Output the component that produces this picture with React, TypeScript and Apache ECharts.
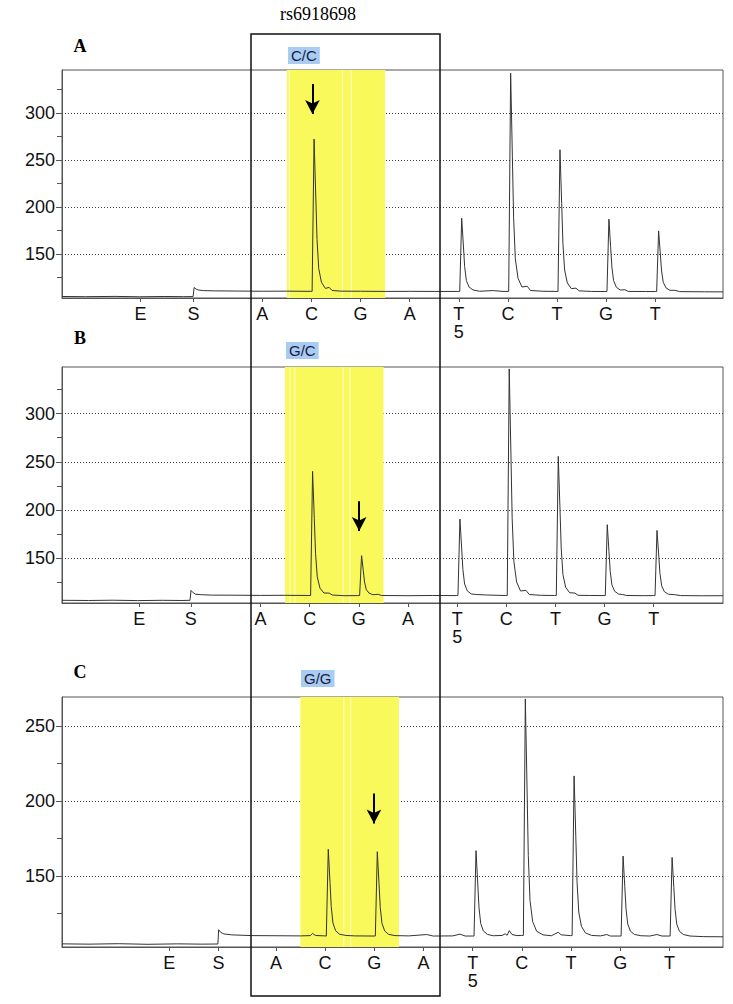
import React, { useEffect, useRef } from "react";
import * as echarts from "echarts";

// ---------- data ----------
const TICK_LABELS = ["E", "S", "A", "C", "G", "A", "T\n5", "C", "T", "G", "T"];
const POS_A = [-1.48, -0.4, 1, 2, 3, 4, 5, 6, 7, 8, 9];
const POS_B = [-1.47, -0.42, 1, 2, 3, 4, 5, 6, 7, 8, 9];
const POS_C = [-1.17, -0.17, 1, 2, 3, 4, 5, 6, 7, 8, 9];

const X_RANGE_A = [-3.08, 10.38];
const X_RANGE_B = [-3.04, 10.41];
const X_RANGE_C = [-3.35, 10.09];
const Y_RANGE_A = [103, 346];
const Y_RANGE_B = [103.2, 348.5];
const Y_RANGE_C = [102.7, 269.3];

const MAJOR_A = [150, 200, 250, 300];
const MAJOR_B = [150, 200, 250, 300];
const MAJOR_C = [150, 200, 250];
const MINOR_A = [125, 175, 225, 275, 325];
const MINOR_B = [125, 175, 225, 275, 325];
const MINOR_C = [125, 175, 225];

const BAND = [1.5, 3.5];
const STRIPES_A = [1.55, 2.63, 2.81];
const STRIPES_B = [1.6, 1.7, 2.68, 2.82];
const STRIPES_C = [2.38, 2.52];

const GENOTYPES = ["C/C", "G/C", "G/G"];
// arrow: [x, y start, y end]
const ARROW_A = [2.02, 331, 299];
const ARROW_B = [3.007, 209, 178];
const ARROW_C = [2.993, 205, 185];

const TRACE_A = [
  [-3.08, 104.6], [-2.6, 104.4], [-2.0, 104.7], [-1.5, 104.3], [-1.0, 104.6], [-0.6, 104.4],
  [-0.41, 104.5], [-0.39, 114.2], [-0.35, 112.5], [-0.3, 111.5], [-0.2, 110.9], [0.0, 110.6],
  [0.5, 110.4], [1.0, 110.2], [1.5, 110.3], [1.98, 110.1],
  [2.013, 110], [2.053, 272.3], [2.088, 210.6], [2.113, 165.2], [2.148, 134.3], [2.203, 119.7],
  [2.283, 113.2], [2.36, 114.3], [2.42, 111], [2.6, 110.3],
  [3.0, 110.2], [3.5, 110.0], [4.0, 110.1], [4.5, 110.0], [4.98, 110.0],
  [5.019, 110], [5.059, 188], [5.094, 158.4], [5.119, 136.5], [5.154, 121.7], [5.209, 114.7],
  [5.289, 111.6], [5.42, 110.2], [5.7, 110.9], [5.9, 110],
  [6.016, 110], [6.056, 342.6], [6.091, 254.2], [6.116, 189.1], [6.151, 144.9], [6.206, 124],
  [6.286, 114.7], [6.394, 115.5], [6.46, 111], [6.7, 110.2], [6.98, 110],
  [7.02, 110], [7.06, 261], [7.095, 203.6], [7.12, 161.3], [7.155, 132.7], [7.21, 119.1],
  [7.29, 113], [7.386, 113.5], [7.45, 110.6], [7.7, 110], [7.98, 109.9],
  [8.017, 110], [8.057, 187], [8.092, 157.7], [8.117, 136.2], [8.152, 121.6], [8.207, 114.6],
  [8.287, 111.5], [8.383, 111.8], [8.45, 110], [8.8, 109.9], [9.0, 109.9],
  [9.029, 109.9], [9.069, 174.5], [9.104, 149.9], [9.129, 131.8], [9.164, 119.6], [9.219, 113.8],
  [9.299, 111.2], [9.4, 111.2], [9.5, 109.8], [10.0, 109.6], [10.38, 109.5],
];

const TRACE_B = [
  [-3.04, 106.0], [-2.5, 105.8], [-2.0, 106.1], [-1.5, 105.7], [-1.0, 106.0], [-0.6, 105.8],
  [-0.435, 106], [-0.415, 116.3], [-0.37, 113.8], [-0.32, 112.3], [-0.2, 111.8], [0, 111.4],
  [0.5, 111.3], [1.0, 111.1], [1.5, 111.2], [1.97, 111],
  [2.019, 111], [2.059, 240], [2.094, 191], [2.119, 154.9], [2.154, 130.4], [2.209, 118.7],
  [2.289, 113.6], [2.396, 113.5], [2.46, 111.5], [2.7, 110.8], [2.98, 110.9],
  [3.016, 111], [3.056, 152.4], [3.091, 136.7], [3.116, 125.1], [3.151, 117.2], [3.206, 113.5],
  [3.286, 111.8], [3.394, 112.2], [3.46, 111], [4.0, 110.8], [4.5, 111.0], [4.99, 110.9],
  [5.017, 111], [5.057, 190.5], [5.092, 160.3], [5.117, 138], [5.152, 122.9], [5.207, 115.8],
  [5.287, 112.6], [5.4, 112], [5.6, 111.5], [5.98, 111],
  [6.02, 111], [6.06, 346.5], [6.095, 257], [6.12, 191.1], [6.155, 146.3], [6.21, 125.1],
  [6.29, 115.7], [6.4, 116.3], [6.47, 112], [6.7, 111.2], [6.98, 111],
  [7.018, 111], [7.058, 255.6], [7.093, 200.7], [7.118, 160.2], [7.153, 132.7], [7.208, 119.7],
  [7.288, 113.9], [7.398, 113.5], [7.46, 111.2], [7.7, 111], [7.99, 110.9],
  [8.015, 111], [8.055, 184.6], [8.09, 156.6], [8.115, 136], [8.15, 122], [8.205, 115.4],
  [8.285, 112.5], [8.37, 112], [8.45, 111], [8.8, 110.8], [9.0, 110.9],
  [9.027, 110.9], [9.067, 178.7], [9.102, 153], [9.127, 134], [9.162, 121.1], [9.217, 115],
  [9.297, 112.3], [9.43, 111.8], [9.55, 110.9], [10.0, 110.7], [10.41, 110.8],
];

const TRACE_C = [
  [-3.35, 104.8], [-2.8, 104.6], [-2.2, 104.9], [-1.6, 104.5], [-1.0, 104.8], [-0.5, 104.6],
  [-0.18, 104.7], [-0.165, 114.2], [-0.12, 112.4], [-0.06, 111.4], [0.1, 110.8], [0.5, 110.3],
  [1.0, 110.2], [1.5, 110.1], [1.7, 110.3], [1.746, 111.8], [1.8, 110.4], [1.99, 110.1],
  [2.024, 110], [2.064, 167.8], [2.099, 145.8], [2.124, 129.7], [2.159, 118.7], [2.214, 113.5],
  [2.294, 111.2], [2.42, 110.4], [2.6, 110.1], [3.0, 110],
  [3.021, 110], [3.061, 166.2], [3.096, 144.8], [3.121, 129.1], [3.156, 118.4], [3.211, 113.4],
  [3.291, 111.1], [3.42, 110.3], [3.7, 110.1], [4.066, 111], [4.2, 110], [4.6, 110.1],
  [4.74, 111.3], [4.85, 110], [4.99, 110],
  [5.028, 110], [5.068, 166.9], [5.103, 145.3], [5.128, 129.3], [5.163, 118.5], [5.218, 113.4],
  [5.298, 111.1], [5.42, 110.2], [5.6, 110.4], [5.66, 111.5], [5.7, 110.5], [5.746, 113.6],
  [5.8, 111], [5.9, 110.3], [5.99, 110.4],
  [6.031, 110.4], [6.071, 268], [6.106, 208], [6.131, 163.7], [6.166, 133.7], [6.221, 119.5],
  [6.301, 113.2], [6.43, 110.8], [6.6, 110.2], [6.74, 112.5], [6.8, 110.8], [6.99, 110.3],
  [7.022, 110.3], [7.062, 216.7], [7.097, 176.2], [7.122, 146.3], [7.157, 126], [7.212, 116.4],
  [7.292, 112.1], [7.42, 110.4], [7.6, 110.1], [7.727, 111], [7.8, 110], [7.99, 110],
  [8.018, 110], [8.058, 163.3], [8.093, 143], [8.118, 128.1], [8.153, 118], [8.208, 113.2],
  [8.288, 111.1], [8.42, 110.2], [8.6, 110], [8.745, 111], [8.85, 110], [8.99, 110],
  [9.015, 110], [9.055, 162.4], [9.09, 142.5], [9.115, 127.8], [9.15, 117.9], [9.205, 113.1],
  [9.285, 111], [9.42, 110], [9.7, 109.6], [10.09, 109.5],
];

// ---------- layout / style ----------
const GRIDS = [
  { left: 62, top: 70, width: 661, height: 228 },
  { left: 62, top: 367, width: 661, height: 236 },
  { left: 62, top: 697, width: 661, height: 250 },
];
const SANS = '"Liberation Sans", Arial, sans-serif';
const SERIF = '"Liberation Serif", "Times New Roman", serif';
const AXIS_COLOR = "#555";
const YELLOW = "#F9F95C";
const PALE = "#FBFBC8";

function bandAreas(stripes: number[]) {
  const areas: any[] = [[{ xAxis: BAND[0], itemStyle: { color: PALE } }, { xAxis: BAND[1] }]];
  const edges = [BAND[0], ...stripes, BAND[1]];
  for (let i = 0; i < edges.length - 1; i++) {
    const a = i === 0 ? edges[i] : edges[i] + 0.011;
    const b = i === edges.length - 2 ? edges[i + 1] : edges[i + 1] - 0.011;
    areas.push([{ xAxis: a, itemStyle: { color: YELLOW } }, { xAxis: b }]);
  }
  return areas;
}

export default function App() {
  const ref = useRef<HTMLDivElement>(null);

  useEffect(() => {
    if (!ref.current) return;
    const chart = echarts.init(ref.current, null, { renderer: "svg" });

    const panels = [
      { pos: POS_A, xr: X_RANGE_A, yr: Y_RANGE_A, major: MAJOR_A, minor: MINOR_A, stripes: STRIPES_A, arrow: ARROW_A, trace: TRACE_A },
      { pos: POS_B, xr: X_RANGE_B, yr: Y_RANGE_B, major: MAJOR_B, minor: MINOR_B, stripes: STRIPES_B, arrow: ARROW_B, trace: TRACE_B },
      { pos: POS_C, xr: X_RANGE_C, yr: Y_RANGE_C, major: MAJOR_C, minor: MINOR_C, stripes: STRIPES_C, arrow: ARROW_C, trace: TRACE_C },
    ];

    const grid = GRIDS.map((g) => ({
      ...g,
      show: true,
      borderColor: AXIS_COLOR,
      borderWidth: 1,
      backgroundColor: "transparent",
    }));

    const xAxis = panels.map((p, i) => ({
      type: "value",
      gridIndex: i,
      min: p.xr[0],
      max: p.xr[1],
      axisLine: { show: true, onZero: false, lineStyle: { color: AXIS_COLOR, width: 1 } },
      axisTick: { show: true, customValues: p.pos, length: 4, lineStyle: { color: AXIS_COLOR } },
      axisLabel: {
        show: true,
        customValues: p.pos,
        margin: 7,
        fontFamily: SANS,
        fontSize: 18,
        lineHeight: 18,
        color: "#111",
        formatter: (v: number) => {
          const k = p.pos.findIndex((q) => Math.abs(q - v) < 1e-6);
          return k >= 0 ? TICK_LABELS[k] : "";
        },
      },
      splitLine: { show: false },
    }));

    const yAxis: any[] = [];
    panels.forEach((p, i) => {
      yAxis.push({
        type: "value",
        gridIndex: i,
        position: "left",
        min: p.yr[0],
        max: p.yr[1],
        axisLine: { show: true, onZero: false, lineStyle: { color: AXIS_COLOR, width: 1 } },
        axisTick: { show: true, customValues: p.major, length: 6, lineStyle: { color: AXIS_COLOR } },
        axisLabel: {
          customValues: p.major,
          margin: 7,
          fontFamily: SANS,
          fontSize: 18,
          color: "#111",
        },
        splitLine: {
          show: true,
          lineStyle: { color: "#444", width: 1, type: [1, 2] },
        },
      });
    });
    panels.forEach((p, i) => {
      yAxis.push({
        type: "value",
        gridIndex: i,
        position: "left",
        offset: 0,
        min: p.yr[0],
        max: p.yr[1],
        axisLine: { show: false, onZero: false },
        axisTick: { show: true, customValues: p.minor, length: 5, lineStyle: { color: AXIS_COLOR } },
        axisLabel: { show: false },
        splitLine: { show: false },
      });
    });

    const series = panels.map((p, i) => ({
      type: "line",
      xAxisIndex: i,
      yAxisIndex: i,
      data: p.trace,
      showSymbol: false,
      symbol: "none",
      silent: true,
      lineStyle: { color: "#333", width: 1 },
      z: 3,
      markArea: {
        silent: true,
        data: bandAreas(p.stripes),
      },
      markLine: {
        silent: true,
        symbol: ["none", "arrow"],
        symbolSize: [11, 14],
        label: { show: false },
        lineStyle: { color: "#000", width: 2, type: "solid" },
        data: [[{ coord: [p.arrow[0], p.arrow[1]] }, { coord: [p.arrow[0], p.arrow[2]] }]],
      },
    }));

    const genoPos = [
      [288, 47],
      [286, 342],
      [301, 670],
    ];
    const letterPos = [
      ["A", 46],
      ["B", 338],
      ["C", 672],
    ];

    const graphic: any[] = [
      {
        type: "text",
        x: 318,
        y: 14,
        z: 100,
        style: { text: "rs6918698", font: `18px ${SERIF}`, fill: "#000", align: "center", verticalAlign: "middle" },
      },
      ...letterPos.map(([t, y]) => ({
        type: "text",
        x: 80,
        y: y as number,
        z: 100,
        style: { text: t as string, font: `bold 18px ${SERIF}`, fill: "#000", align: "center", verticalAlign: "middle" },
      })),
      ...GENOTYPES.map((g, i) => ({
        type: "text",
        x: genoPos[i][0],
        y: genoPos[i][1],
        z: 100,
        style: {
          text: g,
          font: `15px ${SANS}`,
          fill: "#1a1a40",
          backgroundColor: "#A8CCF2",
          padding: [1, 3, 1, 3],
          lineHeight: 15,
          align: "left",
          verticalAlign: "top",
        },
      })),
      {
        type: "rect",
        z: 100,
        shape: { x: 251, y: 34, width: 189, height: 962 },
        style: { fill: "none", stroke: "#111", lineWidth: 1.5 },
      },
    ];

    chart.setOption({
      animation: false,
      backgroundColor: "#fff",
      grid,
      xAxis,
      yAxis,
      series,
      graphic,
    });

    return () => chart.dispose();
  }, []);

  return (
    <div
      ref={ref}
      style={{ position: "absolute", left: 0, top: 0, width: 733, height: 1004, background: "#fff" }}
    />
  );
}
